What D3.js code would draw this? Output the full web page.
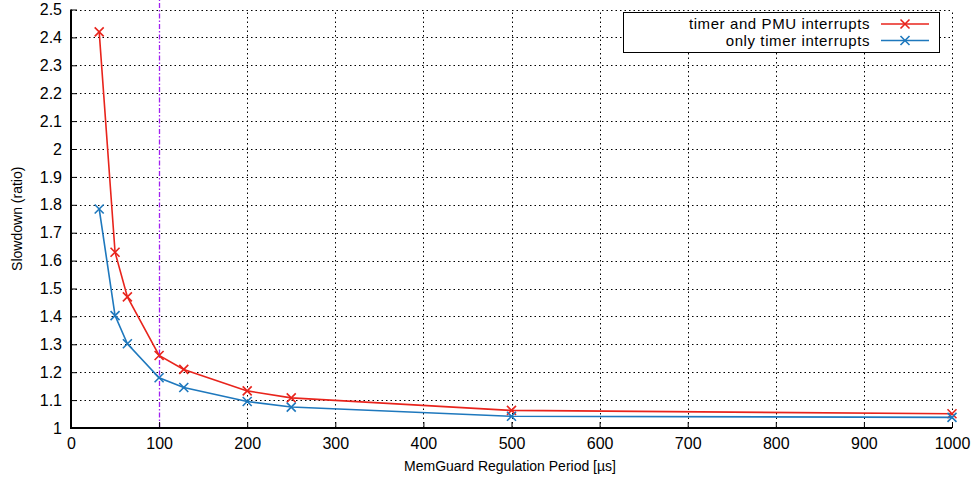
<!DOCTYPE html>
<html><head><meta charset="utf-8">
<script src="https://cdn.jsdelivr.net/npm/d3@7"></script>
<style>body{margin:0;background:#fff}svg{display:block}</style>
</head><body>
<script>
const periods = [32, 50, 64, 100, 128, 200, 250, 500, 1000];
const timerPmu = [2.42, 1.63, 1.47, 1.26, 1.21, 1.133, 1.108, 1.063, 1.051];
const timerOnly = [1.785, 1.403, 1.302, 1.18, 1.145, 1.095, 1.075, 1.042, 1.038];
const seriesNames = ["timer and PMU interrupts", "only timer interrupts"];
const seriesColors = ["#e8241c", "#1e78bd"];
const xTicks = [0,100,200,300,400,500,600,700,800,900,1000];
const yTicks = [1,1.1,1.2,1.3,1.4,1.5,1.6,1.7,1.8,1.9,2,2.1,2.2,2.3,2.4,2.5];
const markerX = 100;

const W = 971, H = 484;
const m = {left: 71, right: 19, top: 9.5, bottom: 56};
const svg = d3.select("body").append("svg").attr("width", W).attr("height", H);
const x = d3.scaleLinear().domain([0, 1000]).range([m.left, W - m.right]);
const y = d3.scaleLinear().domain([1, 2.5]).range([H - m.bottom, m.top]);
const font = "'Liberation Sans', Arial, sans-serif";

// grid
const g = svg.append("g");
g.selectAll(".gx").data(xTicks.filter(d => d > 0 && d !== markerX)).enter().append("line")
  .attr("x1", d => Math.round(x(d)) + 0.5).attr("x2", d => Math.round(x(d)) + 0.5)
  .attr("y1", y(1)).attr("y2", y(2.5))
  .attr("stroke", "#000").attr("stroke-width", 1).attr("stroke-dasharray", "1.5,3");
g.selectAll(".gy").data(yTicks.filter(d => d > 1)).enter().append("line")
  .attr("y1", d => Math.round(y(d)) + 0.5).attr("y2", d => Math.round(y(d)) + 0.5)
  .attr("x1", x(0)).attr("x2", x(1000))
  .attr("stroke", "#000").attr("stroke-width", 1).attr("stroke-dasharray", "1.5,3");

// vertical marker
svg.append("line").attr("x1", Math.round(x(markerX)) + 0.5).attr("x2", Math.round(x(markerX)) + 0.5)
  .attr("y1", y(1)).attr("y2", 0)
  .attr("stroke", "#a020f0").attr("stroke-width", 1.3).attr("stroke-dasharray", "5,2,1.5,2");

// axes
const xAxis = d3.axisBottom(x).tickValues(xTicks).tickSize(-6).tickPadding(10).tickFormat(d3.format("d"));
const yAxis = d3.axisLeft(y).tickValues(yTicks).tickSize(-6).tickPadding(9).tickFormat(d => d3.format("")(d));
const ax = svg.append("g").attr("transform", `translate(0,${y(1)})`).call(xAxis);
const ay = svg.append("g").attr("transform", `translate(${x(0)},0)`).call(yAxis);
[ax, ay].forEach(a => {
  a.select(".domain").remove();
  a.selectAll("text").attr("font-family", font).attr("font-size", 16).attr("fill", "#000");
  a.selectAll(".tick line").attr("stroke", "#000");
});
svg.append("line").attr("x1", x(0)).attr("x2", x(1000)).attr("y1", y(1)).attr("y2", y(1)).attr("stroke", "#000").attr("stroke-width", 2);
svg.append("line").attr("x1", x(0)).attr("x2", x(0)).attr("y1", y(1) + 1).attr("y2", y(2.5)).attr("stroke", "#000").attr("stroke-width", 2);

// titles
svg.append("text").attr("x", 510).attr("y", 471).attr("text-anchor", "middle")
  .attr("font-family", font).attr("font-size", 14).text("MemGuard Regulation Period [µs]");
svg.append("text").attr("transform", `translate(22,${(y(1)+y(2.5))/2}) rotate(-90)`).attr("text-anchor", "middle")
  .attr("font-family", font).attr("font-size", 14).text("Slowdown (ratio)");

// series
const series = [timerPmu, timerOnly];
const line = d3.line().x(d => x(d[0])).y(d => y(d[1]));
function cross(sel, cx, cy, color) {
  const s = 4.5;
  sel.append("path").attr("d", `M${cx-s},${cy-s}L${cx+s},${cy+s}M${cx-s},${cy+s}L${cx+s},${cy-s}`)
    .attr("stroke", color).attr("stroke-width", 1.6).attr("fill", "none");
}
series.forEach((vals, i) => {
  const pts = periods.map((p, j) => [p, vals[j]]);
  svg.append("path").datum(pts).attr("d", line).attr("fill", "none")
    .attr("stroke", seriesColors[i]).attr("stroke-width", 1.6);
  const mg = svg.append("g");
  pts.forEach(p => cross(mg, x(p[0]), y(p[1]), seriesColors[i]));
});

// legend
svg.append("rect").attr("x", 623.5).attr("y", 12.5).attr("width", 316).attr("height", 40)
  .attr("fill", "#fff").attr("stroke", "#000").attr("stroke-width", 1);
seriesNames.forEach((n, i) => {
  const ly = 24 + i * 16.5;
  svg.append("text").attr("x", 870).attr("y", ly + 5).attr("text-anchor", "end")
    .attr("font-family", font).attr("font-size", 15).attr("letter-spacing", 0.6).text(n);
  svg.append("line").attr("x1", 881).attr("x2", 929).attr("y1", ly).attr("y2", ly)
    .attr("stroke", seriesColors[i]).attr("stroke-width", 1.6);
  cross(svg, 905, ly, seriesColors[i]);
});
</script>
</body></html>
